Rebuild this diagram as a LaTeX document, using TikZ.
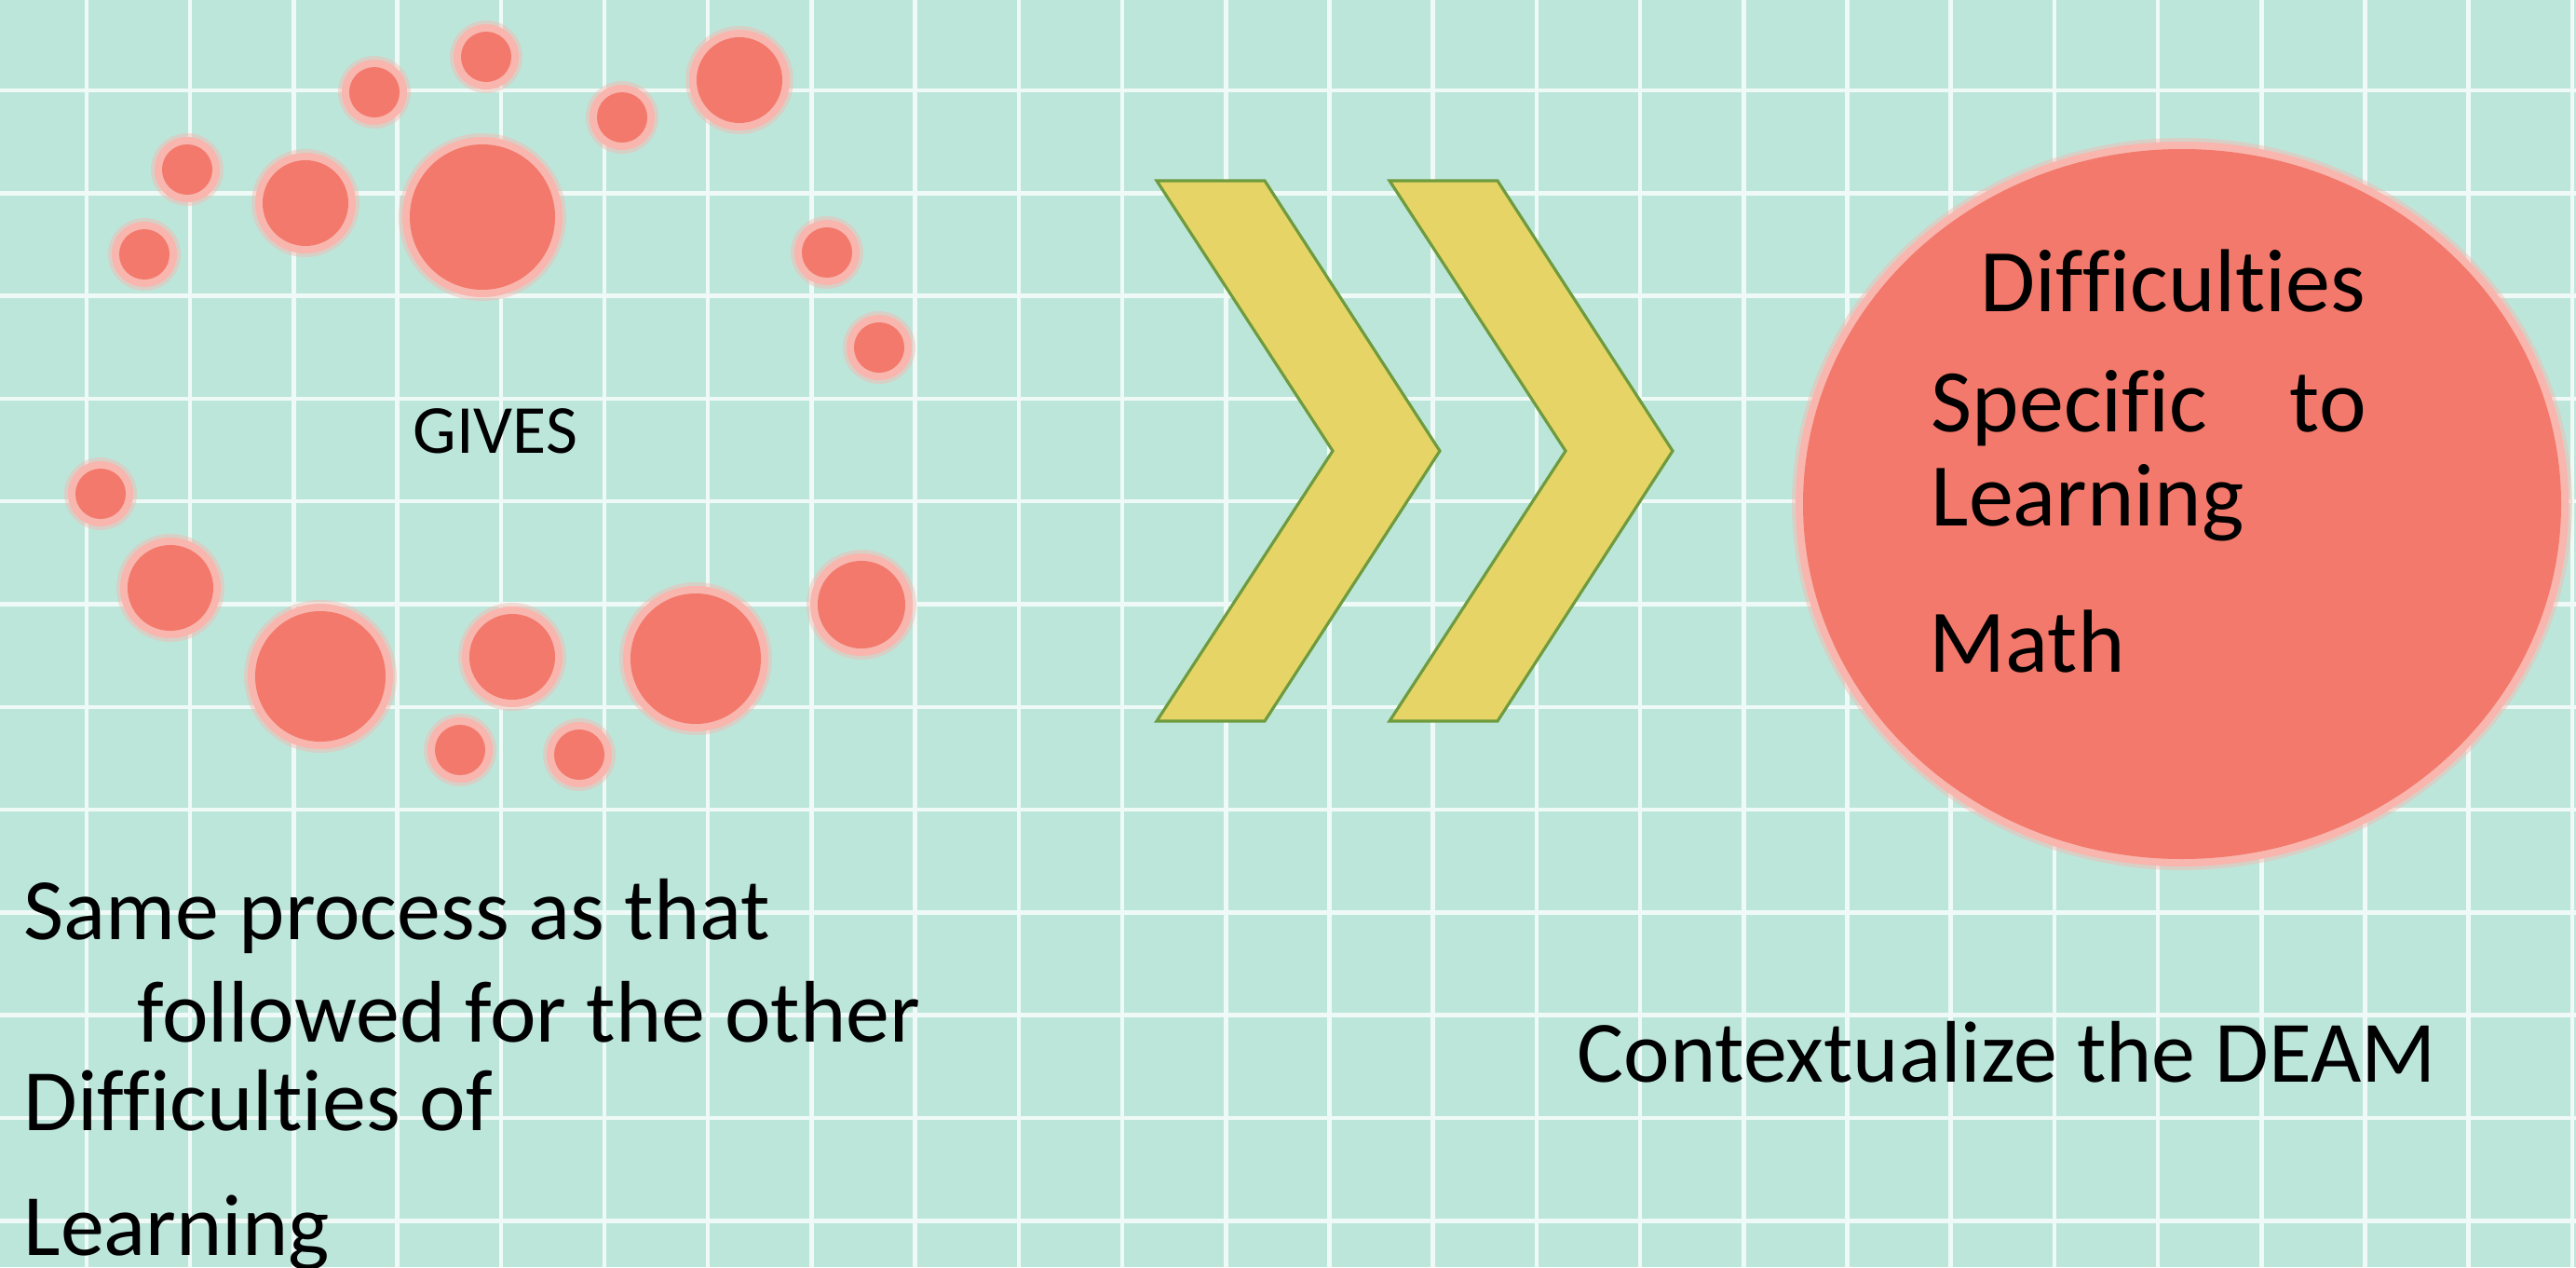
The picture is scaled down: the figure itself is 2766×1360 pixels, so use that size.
\documentclass[tikz,border=0pt]{standalone}
\usepackage{fontspec}
\setmainfont{Carlito}[Ligatures=NoCommon]
\definecolor{mint}{HTML}{BDE6DB}
\definecolor{gridc}{HTML}{EFFAF6}
\definecolor{salmon}{HTML}{F2796B}
\definecolor{rim}{HTML}{F8B6AE}
\definecolor{chevfill}{HTML}{E6D466}
\definecolor{chevline}{HTML}{6E9B3E}
\newcommand\pinkspot[3]{%
  \fill[rim, opacity=0.45] (#1,#2) circle[radius=#3+12];
  \fill[rim] (#1,#2) circle[radius=#3+8];
  \fill[salmon] (#1,#2) circle[radius=#3];
}
\begin{document}
\begin{tikzpicture}[x=0.01cm, y=-0.01cm,
  gridline/.style={gridc, line width=1.3pt},
  chevron/.style={fill=chevfill, draw=chevline, line width=0.9pt, line join=miter},
  bigtext/.style={inner sep=0pt, anchor=base west, font=\fontsize{26.7pt}{32pt}\selectfont},
  circtext/.style={inner sep=0pt, anchor=base west, font=\fontsize{27.3pt}{32pt}\selectfont},
  smalltext/.style={inner sep=0pt, anchor=base west, font=\fontsize{21pt}{25pt}\selectfont}]
% background and grid
\fill[mint] (0,0) rectangle (2766,1360);
\useasboundingbox (0,0) rectangle (2766,1360);
\foreach \k in {0,...,24} \draw[gridline] ({93+111.2*\k},0) -- ({93+111.2*\k},1360);
\foreach \k in {0,...,11} \draw[gridline] (0,{97+110.3*\k}) -- (2766,{97+110.3*\k});

% ring of dots
\pinkspot{522}{61}{27}
\pinkspot{402}{99}{27}
\pinkspot{794}{86}{46}
\pinkspot{668}{126}{27}
\pinkspot{201}{182}{27}
\pinkspot{328}{218}{46}
\pinkspot{518}{233}{78}
\pinkspot{155}{273}{27}
\pinkspot{888}{271}{27}
\pinkspot{944}{373}{27}
\pinkspot{108}{530}{27}
\pinkspot{183}{631}{46}
\pinkspot{344}{726}{70}
\pinkspot{550}{705}{46}
\pinkspot{747}{707}{70}
\pinkspot{925}{649}{47}
\pinkspot{494}{805}{27}
\pinkspot{622}{810}{27}

\node[smalltext] (gives) at (443,486) {GIVES};

% double chevron
\filldraw[chevron] (1242,194) -- (1358,194) -- (1546,484) -- (1358,774) -- (1242,774) -- (1431,484) -- cycle;
\filldraw[chevron] (1492,194) -- (1608,194) -- (1796,484) -- (1608,774) -- (1492,774) -- (1681,484) -- cycle;

% large disc
\fill[rim, opacity=0.45] (2343,541) ellipse[x radius=419, y radius=393];
\fill[rim] (2343,541) ellipse[x radius=415, y radius=389];
\fill[salmon] (2343,541) ellipse[x radius=407, y radius=381];

\node[circtext] (d1) at (2126,334) {Difficulties};
\node[circtext] (d2) at (2073,463) {Specific};
\node[circtext] (d3) at (2458,463) {to};
\node[circtext] (d4) at (2073,564) {Learning};
\node[circtext] (d5) at (2071,721) {Math};

\node[bigtext] (ctx) at (1693,1161) {Contextualize the DEAM};

\node[bigtext] (s1) at (25,1008) {Same process as that};
\node[bigtext] (s2) at (147,1118) {followed for the other};
\node[bigtext] (s3) at (25,1213) {Difficulties of};
\node[bigtext] (s4) at (25,1347) {Learning};
\end{tikzpicture}
\end{document}
